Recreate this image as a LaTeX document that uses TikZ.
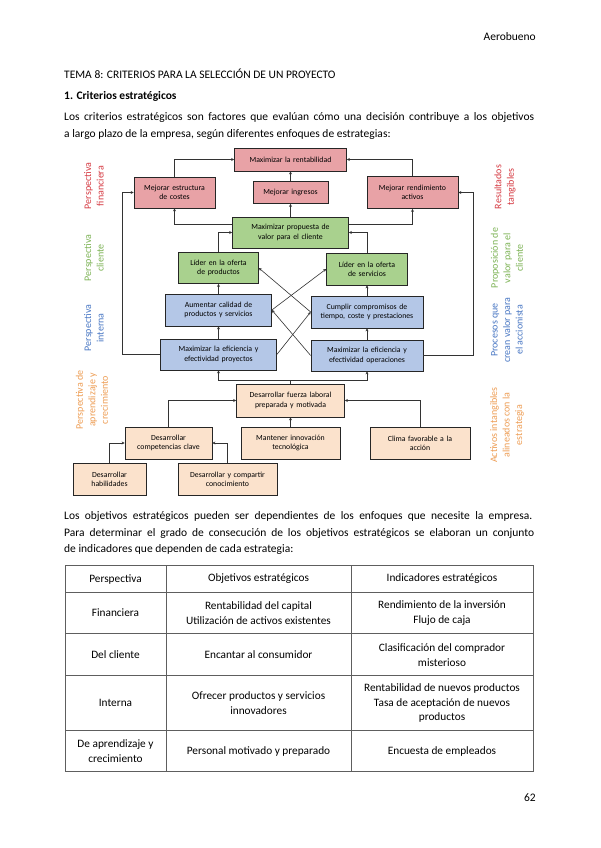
\documentclass[tikz,border=0pt]{standalone}
\usepackage{fontspec}
\setmainfont{Carlito}
\usetikzlibrary{arrows.meta,shadows}

\definecolor{finfill}{HTML}{E8A2A6}
\definecolor{clifill}{HTML}{A9D18E}
\definecolor{intfill}{HTML}{B4C7E7}
\definecolor{aprfill}{HTML}{FBE2CC}
\definecolor{finred}{HTML}{D63B43}
\definecolor{cligreen}{HTML}{7DB355}
\definecolor{intblue}{HTML}{4A78C4}
\definecolor{aprorange}{HTML}{EE9E55}
\definecolor{gridgray}{HTML}{5E5E5E}

\tikzset{
  box/.style={draw=black!85, line width=0.7pt, align=center, inner xsep=3pt, inner ysep=1pt,
    font=\fontsize{7.8}{9.3}\selectfont,
    drop shadow={shadow xshift=0.8pt, shadow yshift=-0.8pt, opacity=0.5}},
  fin/.style={box, fill=finfill},
  cli/.style={box, fill=clifill},
  intb/.style={box, fill=intfill},
  apr/.style={box, fill=aprfill},
  conn/.style={draw=black!80, line width=0.6pt, -{Stealth[length=3pt,width=3pt]}},
  side/.style={rotate=90, align=center, inner sep=0pt, font=\fontsize{10}{12.5}\selectfont},
  body/.style={anchor=base west, inner sep=0pt, font=\fontsize{11.5}{14}\selectfont},
  cell/.style={align=center, inner sep=0pt, font=\fontsize{11.3}{14.5}\selectfont}
}

\begin{document}
\begin{tikzpicture}[x=1pt, y=-1pt]
  \fill[white] (0,0) rectangle (600,848);
  \useasboundingbox (0,0) rectangle (600,848);

  % page text
  \node[body, anchor=base east] (page) at (536,41) {Aerobueno};
  \node[body] (tema) at (64,79) {TEMA 8: CRITERIOS PARA LA SELECCIÓN DE UN PROYECTO};
  \node[body] (secc) at (64,100) {\bfseries 1. Criterios estratégicos};
  \node[body] (p1a) at (64,121) {\hbox to 470pt{Los criterios estratégicos son factores que evalúan cómo una decisión contribuye a los objetivos}};
  \node[body] (p1b) at (64,137) {a largo plazo de la empresa, según diferentes enfoques de estrategias:};

  % side labels
  \node[side, text=finred] (lfin) at (94,186) {Perspectiva\\financiera};
  \node[side, text=cligreen] (lcli) at (94,258) {Perspectiva\\cliente};
  \node[side, text=intblue] (lint) at (94,328) {Perspectiva\\interna};
  \node[side, text=aprorange] (lapr) at (92,400) {Perspectiva de\\aprendizaje y\\crecimiento};
  \node[side, text=finred] (rfin) at (505,187) {Resultados\\tangibles};
  \node[side, text=cligreen] (rcli) at (507,258) {Proposición de\\valor para el\\cliente};
  \node[side, text=intblue] (rint) at (507,330) {Procesos que\\crean valor para\\el accionista};
  \node[side, text=aprorange] (rapr) at (507,425) {Activos intangibles\\alineados con la\\estrategia};

  % perspectiva financiera
  \node[fin, text width=106pt, minimum height=23pt] (rent) at (290.5,159.5) {Maximizar la rentabilidad};
  \node[fin, text width=75pt, minimum height=31pt] (costes) at (174.5,192.5) {Mejorar estructura\\de costes};
  \node[fin, text width=69pt, minimum height=22pt] (ingr) at (290.5,192.5) {Mejorar ingresos};
  \node[fin, text width=85pt, minimum height=32pt] (activos) at (412.5,192.5) {Mejorar rendimiento\\activos};

  % perspectiva cliente
  \node[cli, text width=110pt, minimum height=31pt] (prop) at (290.5,232.5) {Maximizar propuesta de\\valor para el cliente};
  \node[cli, text width=74pt, minimum height=31pt] (lprod) at (218.5,268) {Líder en la oferta\\de productos};
  \node[cli, text width=75pt, minimum height=32pt] (lserv) at (367,269) {Líder en la oferta\\de servicios};

  % perspectiva interna
  \node[intb, text width=100pt, minimum height=32pt] (calidad) at (218.5,310) {Aumentar calidad de\\productos y servicios};
  \node[intb, text width=106pt, minimum height=32pt] (cumplir) at (367,312) {Cumplir compromisos de\\tiempo, coste y prestaciones};
  \node[intb, text width=110pt, minimum height=31pt] (mproy) at (218.5,354.5) {Maximizar la eficiencia y\\efectividad proyectos};
  \node[intb, text width=106pt, minimum height=31pt] (moper) at (367,355.5) {Maximizar la eficiencia y\\efectividad operaciones};

  % aprendizaje y crecimiento
  \node[apr, text width=102pt, minimum height=33pt] (fuerza) at (290.5,400.5) {Desarrollar fuerza laboral\\preparada y motivada};
  \node[apr, text width=81pt, minimum height=32pt] (compet) at (168.5,443) {Desarrollar\\competencias clave};
  \node[apr, text width=93pt, minimum height=32pt] (innov) at (290.5,443) {Mantener innovación\\tecnológica};
  \node[apr, text width=94pt, minimum height=32pt] (clima) at (420,443) {Clima favorable a la\\acción};
  \node[apr, text width=67pt, minimum height=32pt] (habil) at (109.5,479) {Desarrollar\\habilidades};
  \node[apr, text width=93pt, minimum height=32pt] (conoc) at (227.5,479) {Desarrollar y compartir\\conocimiento};

  % connectors
  \draw[conn] (costes.north) |- (rent.west);
  \draw[conn] (ingr.north) -- (rent.south);
  \draw[conn] (activos.north) |- (rent.east);
  \draw[conn] ([yshift=8pt]prop.west) -| (costes.south);
  \draw[conn] (prop.north) -- (ingr.south);
  \draw[conn] ([yshift=8pt]prop.east) -| (activos.south);
  \draw[conn] (lprod.north) |- (prop.west);
  \draw[conn] (lserv.north) |- (prop.east);
  \draw[conn] (calidad.north) -- (lprod.south);
  \draw[conn] (cumplir.north) -- (lserv.south);
  \draw[conn] (mproy.north) -- (calidad.south);
  \draw[conn] (moper.north) -- (cumplir.south);
  \draw[conn] (calidad.east) -- (lserv.west);
  \draw[conn] (cumplir.west) -- (lprod.east);
  \draw[conn] (mproy.east) -- (cumplir.west);
  \draw[conn] (moper.west) -- (calidad.east);
  \draw[conn] (mproy.west) -- ++(-38,0) |- (costes.west);
  \draw[conn] (moper.east) -- ++(50,0) |- (activos.east);
  \coordinate (split) at (290.5,380);
  \draw[draw=black!80, line width=0.6pt] (fuerza.north) -- (split);
  \draw[conn] (split) -| (mproy.south);
  \draw[conn] (split) -| (moper.south);
  \draw[conn] (compet.north) |- (fuerza.west);
  \draw[conn] (innov.north) -- (fuerza.south);
  \draw[conn] (clima.north) |- (fuerza.east);
  \draw[conn] (habil.north) |- (compet.west);
  \draw[conn] (conoc.north) |- (compet.east);

  % second paragraph
  \node[body] (p2a) at (64,519) {\hbox to 468pt{Los objetivos estratégicos pueden ser dependientes de los enfoques que necesite la empresa.}};
  \node[body] (p2b) at (64,536) {\hbox to 470pt{Para determinar el grado de consecución de los objetivos estratégicos se elaboran un conjunto}};
  \node[body] (p2c) at (64,552) {de indicadores que dependen de cada estrategia:};

  % table
  \draw[gridgray, line width=0.8pt] (65,565) rectangle (533,771);
  \foreach \yy in {592,633,675,730} {
    \draw[gridgray, line width=0.8pt] (65,\yy) -- (533,\yy);
  }
  \foreach \xx in {166,351} {
    \draw[gridgray, line width=0.8pt] (\xx,565) -- (\xx,771);
  }
  \node[cell] (h1) at (115.5,579) {Perspectiva};
  \node[cell] (h2) at (258.5,579) {Objetivos estratégicos};
  \node[cell] (h3) at (442,579) {Indicadores estratégicos};
  \node[cell] (a1) at (115.5,613) {Financiera};
  \node[cell] (a2) at (258.5,613) {Rentabilidad del capital\\Utilización de activos existentes};
  \node[cell] (a3) at (442,613) {Rendimiento de la inversión\\Flujo de caja};
  \node[cell] (b1) at (115.5,655) {Del cliente};
  \node[cell] (b2) at (258.5,655) {Encantar al consumidor};
  \node[cell] (b3) at (442,655) {Clasificación del comprador\\misterioso};
  \node[cell] (c1) at (115.5,703) {Interna};
  \node[cell] (c2) at (258.5,703) {Ofrecer productos y servicios\\innovadores};
  \node[cell] (c3) at (442,703) {Rentabilidad de nuevos productos\\Tasa de aceptación de nuevos\\productos};
  \node[cell] (d1) at (115.5,751) {De aprendizaje y\\crecimiento};
  \node[cell] (d2) at (258.5,751) {Personal motivado y preparado};
  \node[cell] (d3) at (442,751) {Encuesta de empleados};

  \node[body, anchor=base east] (num) at (536,801) {62};
\end{tikzpicture}
\end{document}
